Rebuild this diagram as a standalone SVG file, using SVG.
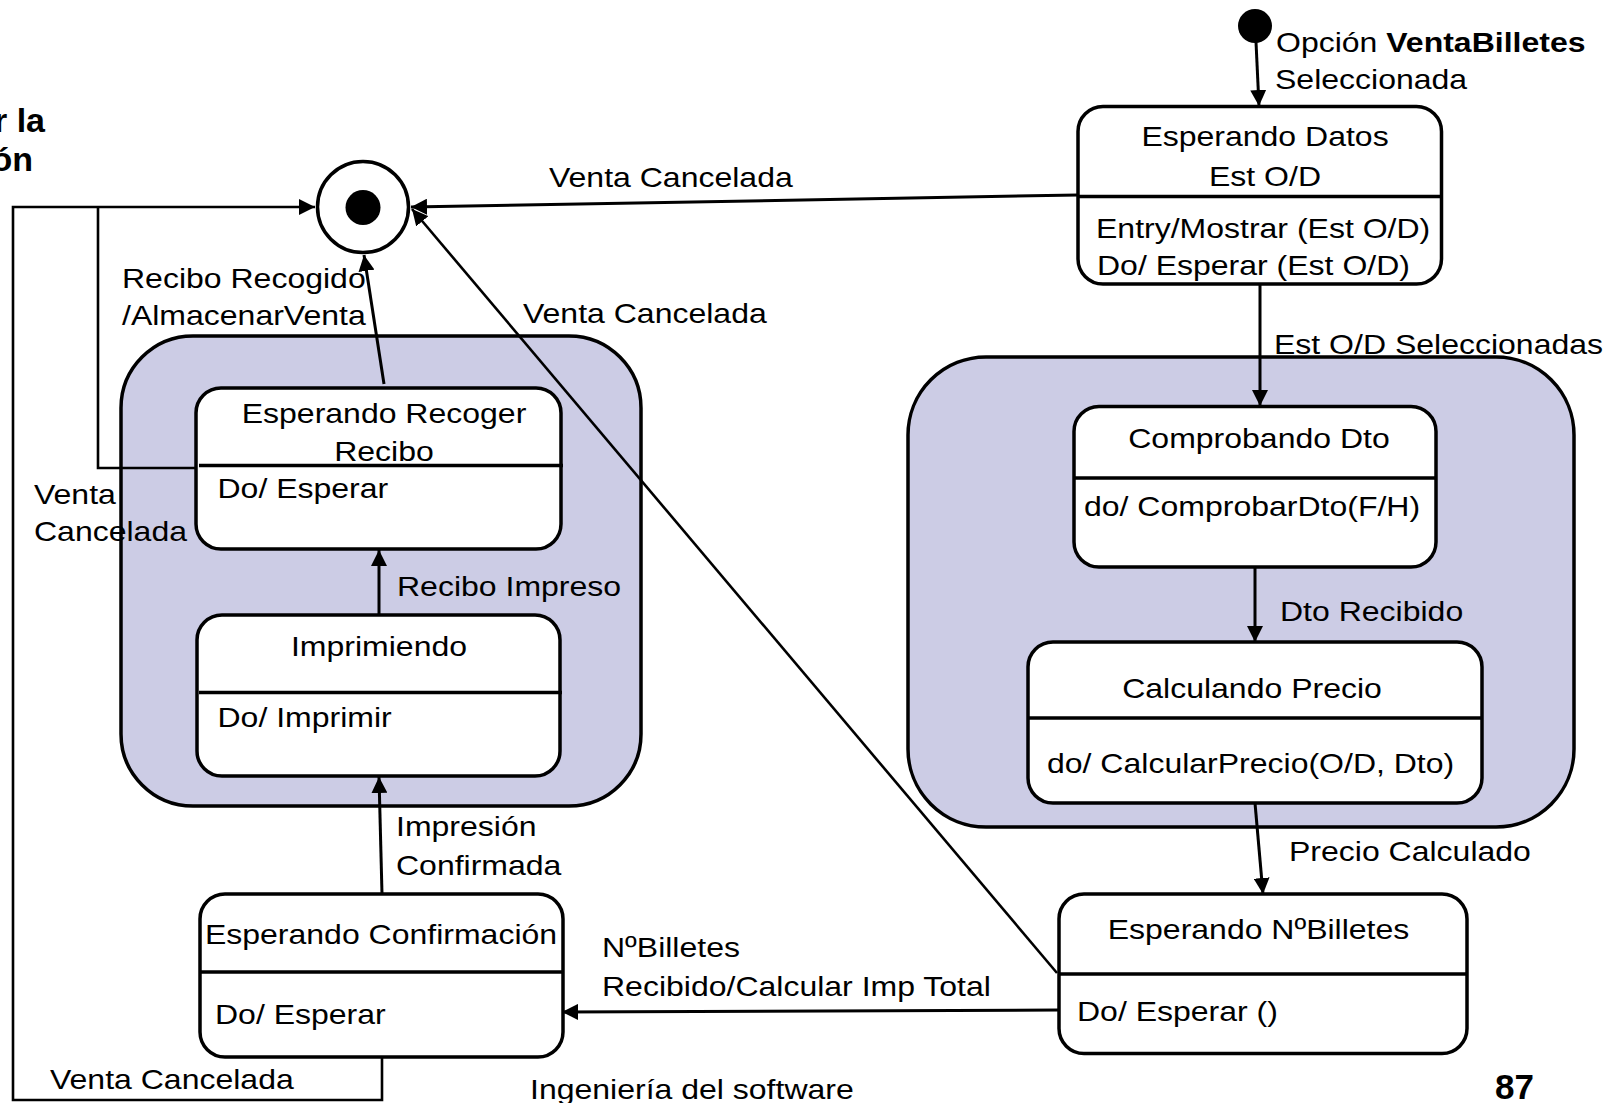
<svg xmlns="http://www.w3.org/2000/svg" width="1620" height="1103" viewBox="0 0 1620 1103">
  <style>
    .t { font-family: "Liberation Sans", Arial, sans-serif; font-size: 28.5px; fill: #000; }
    .c { text-anchor: middle; }
    .b { font-weight: bold; }
    .title { font-family: "Liberation Sans", Arial, sans-serif; font-size: 34px; font-weight: bold; fill: #000; text-anchor: end; }
    .page { font-family: "Liberation Sans", Arial, sans-serif; font-size: 35px; font-weight: bold; fill: #000; }
    .composite { fill: #CCCCE5; stroke: #000; stroke-width: 3.5; }
    .state { fill: #fff; stroke: #000; stroke-width: 3.5; }
    .divider { stroke: #000; stroke-width: 3.5; fill: none; }
    .edge { stroke: #000; stroke-width: 3; fill: none; stroke-linejoin: miter; }
    .thin { stroke-width: 2.6; }
  </style>
  <defs>
    <marker id="arrow" markerUnits="userSpaceOnUse" viewBox="0 0 17 16" markerWidth="17" markerHeight="16" refX="16" refY="8" orient="auto">
      <path d="M0,0 L16,8 L0,16 z" fill="#000"/>
    </marker>
  </defs>

  <rect width="1620" height="1103" fill="#fff"/>

  <!-- heading fragment cut at the left edge -->
  <g id="heading">
    <text class="title" x="45" y="132">r la</text>
    <text class="title" x="33" y="171">ón</text>
  </g>

  <!-- composite (super) states -->
  <g id="composite-impresion">
    <rect class="composite" x="121" y="336" width="520" height="470" rx="72" ry="72"/>
  </g>
  <g id="composite-calculo">
    <rect class="composite" x="908" y="357" width="666" height="470" rx="78" ry="78"/>
  </g>

  <!-- transitions -->
  <g id="connectors">
    <!-- initial -> Esperando Datos -->
    <path class="edge" d="M1256,42 L1259,106" marker-end="url(#arrow)"/>
    <!-- Esperando Datos -> Comprobando Dto -->
    <path class="edge" d="M1260,284 L1260,406" marker-end="url(#arrow)"/>
    <!-- Comprobando Dto -> Calculando Precio -->
    <path class="edge" d="M1255,567 L1255,642" marker-end="url(#arrow)"/>
    <!-- Calculando Precio -> Esperando NºBilletes -->
    <path class="edge" d="M1255,803 L1263,894" marker-end="url(#arrow)"/>
    <!-- Esperando NºBilletes -> Esperando Confirmación -->
    <path class="edge" d="M1059,1010 L562,1012" marker-end="url(#arrow)"/>
    <!-- Esperando Confirmación -> Imprimiendo -->
    <path class="edge" d="M382,894 L379,777" marker-end="url(#arrow)"/>
    <!-- Imprimiendo -> Esperando Recoger Recibo -->
    <path class="edge" d="M379,615 L379,550" marker-end="url(#arrow)"/>
    <!-- Esperando Recoger Recibo -> final -->
    <path class="edge" d="M384,384 L364,255" marker-end="url(#arrow)"/>
    <!-- Esperando Datos -> final (Venta Cancelada) -->
    <path class="edge" d="M1078,195 L411,207" marker-end="url(#arrow)"/>
    <!-- Esperando NºBilletes -> final (Venta Cancelada) -->
    <path class="edge thin" d="M1057,973 L412,209" marker-end="url(#arrow)"/>
    <!-- Esperando Confirmación -> final (Venta Cancelada) -->
    <path class="edge thin" d="M382,1057 L382,1100 L13,1100 L13,207 L315,207" marker-end="url(#arrow)"/>
    <!-- Esperando Recoger Recibo -> final (Venta Cancelada) -->
    <path class="edge thin" d="M196,468 L98,468 L98,207"/>

    <!-- transition labels -->
    <text class="t" transform="translate(1276 52) scale(1.123 1)">Opción <tspan class="b">VentaBilletes</tspan></text>
    <text class="t" transform="translate(1275 88.5) scale(1.123 1)">Seleccionada</text>
    <text class="t" transform="translate(1274 353.5) scale(1.123 1)">Est O/D Seleccionadas</text>
    <text class="t" transform="translate(1280 621) scale(1.123 1)">Dto Recibido</text>
    <text class="t" transform="translate(1289 860.5) scale(1.123 1)">Precio Calculado</text>
    <text class="t" transform="translate(602 956.5) scale(1.123 1)">NºBilletes</text>
    <text class="t" transform="translate(602 996) scale(1.123 1)">Recibido/Calcular Imp Total</text>
    <text class="t" transform="translate(396 836) scale(1.123 1)">Impresión</text>
    <text class="t" transform="translate(396 874.5) scale(1.123 1)">Confirmada</text>
    <text class="t" transform="translate(397 596) scale(1.123 1)">Recibo Impreso</text>
    <text class="t" transform="translate(122 288) scale(1.123 1)">Recibo Recogido</text>
    <text class="t" transform="translate(122 325) scale(1.123 1)">/AlmacenarVenta</text>
    <text class="t" transform="translate(549 187) scale(1.123 1)">Venta Cancelada</text>
    <text class="t" transform="translate(523 323) scale(1.123 1)">Venta Cancelada</text>
    <text class="t" transform="translate(34 504) scale(1.123 1)">Venta</text>
    <text class="t" transform="translate(34 541) scale(1.123 1)">Cancelada</text>
    <text class="t" transform="translate(50 1089) scale(1.123 1)">Venta Cancelada</text>
  </g>

  <!-- pseudo states -->
  <g id="initial">
    <circle cx="1255" cy="26" r="17" fill="#000"/>
  </g>
  <g id="final">
    <circle cx="363" cy="207" r="45.5" fill="#fff" stroke="#000" stroke-width="3.5"/>
    <circle cx="363" cy="207.5" r="17.5" fill="#000"/>
  </g>

  <!-- simple states -->
  <g id="esperando-datos">
    <rect class="state" x="1078" y="106.5" width="363.5" height="177.5" rx="25" ry="25"/>
    <line class="divider" x1="1078" y1="196.5" x2="1441.5" y2="196.5"/>
    <text class="t c" transform="translate(1265 146) scale(1.123 1)">Esperando Datos</text>
    <text class="t c" transform="translate(1265 185.5) scale(1.123 1)">Est O/D</text>
    <text class="t" transform="translate(1096 237.5) scale(1.123 1)">Entry/Mostrar (Est O/D)</text>
    <text class="t" transform="translate(1097 275) scale(1.123 1)">Do/ Esperar (Est O/D)</text>
  </g>

  <g id="comprobando-dto">
    <rect class="state" x="1074" y="406.5" width="362" height="160.5" rx="25" ry="25"/>
    <line class="divider" x1="1074" y1="478" x2="1436" y2="478"/>
    <text class="t c" transform="translate(1259 448) scale(1.123 1)">Comprobando Dto</text>
    <text class="t" transform="translate(1084 516) scale(1.123 1)">do/ ComprobarDto(F/H)</text>
  </g>

  <g id="calculando-precio">
    <rect class="state" x="1028" y="642" width="454" height="161" rx="25" ry="25"/>
    <line class="divider" x1="1028" y1="718" x2="1482" y2="718"/>
    <text class="t c" transform="translate(1252 698) scale(1.123 1)">Calculando Precio</text>
    <text class="t" transform="translate(1047 772.5) scale(1.123 1)">do/ CalcularPrecio(O/D, Dto)</text>
  </g>

  <g id="esperando-nbilletes">
    <rect class="state" x="1059" y="894" width="408" height="159.5" rx="25" ry="25"/>
    <line class="divider" x1="1059" y1="974" x2="1467" y2="974"/>
    <text class="t c" transform="translate(1258.5 939) scale(1.123 1)">Esperando NºBilletes</text>
    <text class="t" transform="translate(1077 1021) scale(1.123 1)">Do/ Esperar ()</text>
  </g>

  <g id="esperando-confirmacion">
    <rect class="state" x="200" y="894" width="363" height="163" rx="25" ry="25"/>
    <line class="divider" x1="199" y1="972" x2="563" y2="972"/>
    <text class="t c" transform="translate(381 943.5) scale(1.123 1)">Esperando Confirmación</text>
    <text class="t" transform="translate(215 1024) scale(1.123 1)">Do/ Esperar</text>
  </g>

  <g id="imprimiendo">
    <rect class="state" x="197" y="615" width="363" height="161" rx="25" ry="25"/>
    <line class="divider" x1="199" y1="692.5" x2="562" y2="692.5"/>
    <text class="t c" transform="translate(379 656) scale(1.123 1)">Imprimiendo</text>
    <text class="t" transform="translate(217.5 727) scale(1.123 1)">Do/ Imprimir</text>
  </g>

  <g id="esperando-recoger-recibo">
    <rect class="state" x="196" y="388" width="365" height="161" rx="25" ry="25"/>
    <line class="divider" x1="199" y1="465.5" x2="563" y2="465.5"/>
    <text class="t c" transform="translate(384 423) scale(1.123 1)">Esperando Recoger</text>
    <text class="t c" transform="translate(384 460.5) scale(1.123 1)">Recibo</text>
    <text class="t" transform="translate(217.5 498) scale(1.123 1)">Do/ Esperar</text>
  </g>

  <!-- footer -->
  <g id="footer">
    <text class="t" transform="translate(530 1099) scale(1.123 1)">Ingeniería del software</text>
    <text class="page" x="1495" y="1099">87</text>
  </g>
</svg>
